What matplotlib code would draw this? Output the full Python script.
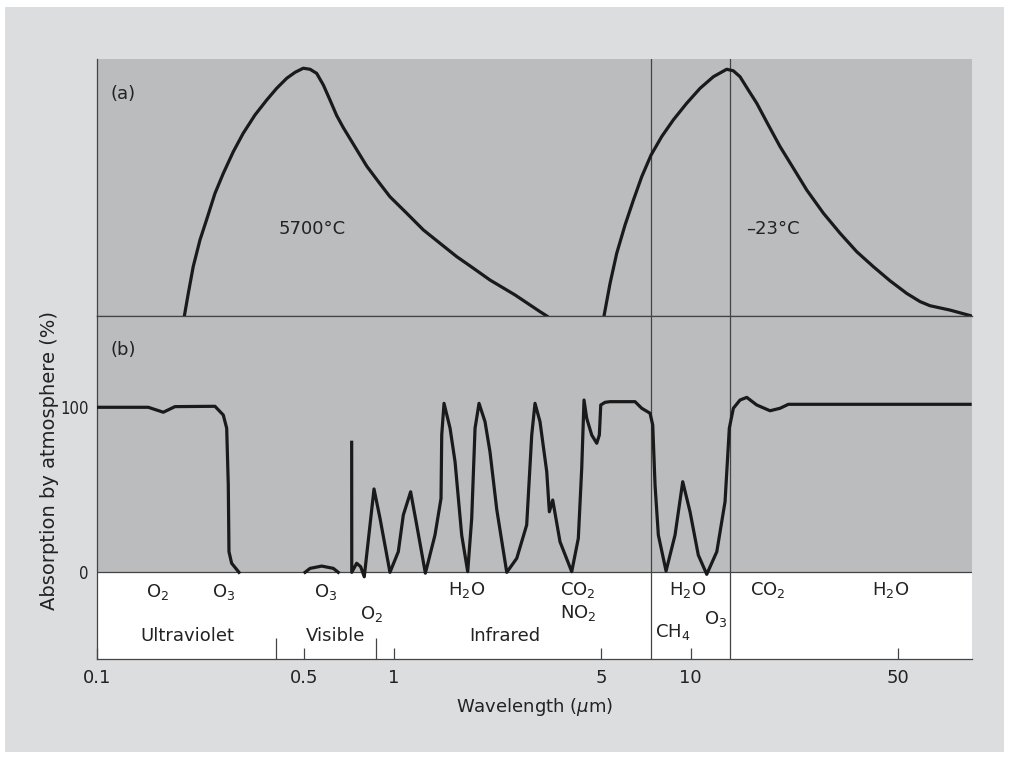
import matplotlib
matplotlib.use("Agg")
import matplotlib.pyplot as plt
from matplotlib import font_manager
from matplotlib.patches import Rectangle
from matplotlib.ticker import FixedLocator, NullFormatter

# (a) emission curves, relative intensity
sun_wl = [0.197, 0.2031, 0.211, 0.2224, 0.234, 0.2498, 0.2665, 0.2879, 0.311, 0.3407,
          0.373, 0.4033, 0.436, 0.4649, 0.4955, 0.5223, 0.55, 0.579, 0.61, 0.6422,
          0.676, 0.7404, 0.811, 0.8871, 0.971, 1.1055, 1.258, 1.4314, 1.63, 1.854,
          2.11, 2.562, 3.11, 3.28]
sun_int = [0, 8.8, 19.2, 29.6, 37.4, 47.7, 55.5, 63.9, 71.1, 78.2,
           84.0, 88.6, 92.5, 94.8, 96.4, 96.0, 94.4, 89.9, 84.0, 78.0,
           73.3, 65.8, 58.3, 52.3, 46.4, 40.0, 33.5, 28.3, 23.1, 18.6,
           14.0, 8.2, 1.7, 0]
earth_wl = [5.11, 5.356, 5.64, 6.016, 6.42, 6.848, 7.36, 7.994, 8.75, 9.71,
            10.77, 11.94, 13.24, 13.94, 14.68, 15.66, 16.71, 18.29, 20.03, 22.21,
            24.64, 28.03, 31.9, 36.32, 41.3, 47.01, 53.5, 59.35, 64.1, 74.9, 88.6]
earth_int = [0, 12.7, 24.4, 35.4, 45.1, 54.2, 62.6, 69.8, 76.3, 82.8,
             88.6, 93.1, 96.0, 95.4, 93.1, 87.9, 82.8, 74.3, 65.9, 57.5,
             49.0, 40.0, 32.2, 25.0, 19.2, 13.7, 8.8, 5.6, 4.0, 2.3, 0]

# (b) absorption by atmosphere (%), three pieces
uv_wl = [0.1, 0.1489, 0.1673, 0.1832, 0.2498, 0.2665, 0.2736, 0.2770, 0.2785, 0.2843, 0.3010]
uv_abs = [100, 100, 97, 100.4, 100.6, 95.3, 87.3, 52.9, 12.5, 5.5, 0]

vis_wl = [0.5024, 0.5223, 0.5719, 0.6257, 0.6502]
vis_abs = [0, 2.4, 3.8, 2.4, 0]

ir_wl = [0.7215, 0.722, 0.750, 0.7738, 0.7955, 0.858, 0.899, 0.971, 1.036, 1.077,
         1.140, 1.195, 1.278, 1.377, 1.443, 1.451, 1.477, 1.548, 1.609, 1.694,
         1.775, 1.831, 1.879, 1.938, 2.030, 2.110, 2.224, 2.403, 2.597, 2.805,
         2.917, 2.992, 3.110, 3.277, 3.344, 3.433, 3.633, 3.978, 4.187, 4.299,
         4.376, 4.469, 4.646, 4.830, 4.929, 4.983, 5.152, 5.356, 6.501, 6.848,
         7.303, 7.458, 7.593, 7.790, 8.270, 8.867, 9.412, 9.961, 10.62, 11.34,
         12.26, 13.07, 13.51, 13.94, 14.68, 15.47, 16.71, 18.53, 20.03, 21.36, 87.5]
ir_abs = [78.8, 0, 5.5, 3.4, -2.7, 50.5, 32.7, 0, 12.5, 34.7,
          48.8, 28.7, -0.5, 22.6, 44.8, 83.2, 102.4, 87.3, 67, 22.6,
          0.4, 32.7, 87.3, 102.4, 91.3, 73, 38, 0, 8.5, 28.7,
          83.2, 102.4, 91.3, 61, 36.7, 43.8, 18.5, 0.4, 20.6, 63,
          104.4, 93.3, 83.2, 78.2, 83.2, 101.4, 103, 103.4, 103.4, 99.4,
          96.4, 89.3, 52.9, 22.6, 0.8, 22.6, 54.9, 36.7, 10.5, -1.2,
          12.5, 42.8, 87.3, 99.4, 104.4, 106, 101.4, 97.9, 99.4, 101.8, 101.8]

window_edges = [7.36, 13.6]
band_edges = [0.4, 0.87]

gas_labels = ["O$_2$", "O$_3$", "O$_3$", "O$_2$", "H$_2$O", "CO$_2$", "NO$_2$",
              "H$_2$O", "O$_3$", "CH$_4$", "CO$_2$", "H$_2$O"]
gas_wl = [0.16, 0.268, 0.591, 0.845, 1.766, 4.18, 4.18, 9.81, 12.19, 8.73, 18.25, 47.4]
gas_y = [-11.9, -11.9, -11.9, -25.3, -10.7, -10.7, -24.7, -10.7, -28.3, -36.2, -10.7, -10.7]

region_labels = ["Ultraviolet", "Visible", "Infrared"]
region_wl = [0.201, 0.639, 2.37]

xticks = [0.1, 0.5, 1, 5, 10, 50]
xticklabels = ["0.1", "0.5", "1", "5", "10", "50"]

panel_gray = "#bbbcbe"
frame_gray = "#dcdddf"
line_col = "#1a1a1a"
rule_col = "#444444"
text_col = "#222222"

plt.rcParams["font.family"] = "DejaVu Sans"
plt.rcParams["mathtext.fontset"] = "dejavusans"

# narrow face for the y tick numbers, if there is one
try:
    font_manager.findfont("Liberation Sans Narrow", fallback_to_default=False)
    narrow = "Liberation Sans Narrow"
    narrow_size = 14
except ValueError:
    narrow = "DejaVu Sans"
    narrow_size = 12

fig = plt.figure(figsize=(10.1, 7.6), dpi=100)
fig.patch.set_facecolor("white")
fig.add_artist(Rectangle((5 / 1010, 8 / 760), 999 / 1010, 745 / 760,
                         transform=fig.transFigure, facecolor=frame_gray,
                         edgecolor="none", zorder=-10))

ax_a = fig.add_axes([0.0960, 0.5842, 0.8661, 0.3382])
ax_b = fig.add_axes([0.0960, 0.1329, 0.8661, 0.4513], sharex=ax_a)

xmin, xmax = 0.1, 88.6
for ax in (ax_a, ax_b):
    ax.set_xscale("log")
    ax.set_xlim(xmin, xmax)
    for s in ("top", "right"):
        ax.spines[s].set_visible(False)
    for s in ("left", "bottom"):
        ax.spines[s].set_color(rule_col)
        ax.spines[s].set_linewidth(0.9)
    for w in window_edges:
        ax.axvline(w, color=rule_col, lw=0.9, zorder=2)
ax_b.spines["top"].set_visible(True)
ax_b.spines["top"].set_color(rule_col)
ax_b.spines["top"].set_linewidth(0.9)

# panel (a)
ax_a.set_facecolor(panel_gray)
ax_a.set_ylim(0, 100)
ax_a.plot(sun_wl, sun_int, color=line_col, lw=2.3, zorder=3)
ax_a.plot(earth_wl, earth_int, color=line_col, lw=2.3, zorder=3)
ax_a.tick_params(axis="both", which="both", length=0, labelbottom=False, labelleft=False)
ax_a.text(0.016, 0.864, "(a)", transform=ax_a.transAxes, fontsize=13,
          ha="left", va="center", color=text_col)
ax_a.text(0.53, 34, "5700°C", fontsize=13, ha="center", va="center", color=text_col)
ax_a.text(19.0, 34, "–23°C", fontsize=13, ha="center", va="center", color=text_col)

# panel (b)
ymin_b, ymax_b = -52.5, 155.3
ax_b.set_facecolor("white")
ax_b.set_ylim(ymin_b, ymax_b)
ax_b.axhspan(0, ymax_b, color=panel_gray, lw=0, zorder=0)
ax_b.axhline(0, color=rule_col, lw=0.9, zorder=2)
ax_b.plot(uv_wl, uv_abs, color=line_col, lw=2.3, zorder=3)
ax_b.plot(vis_wl, vis_abs, color=line_col, lw=2.3, zorder=3)
ax_b.plot(ir_wl, ir_abs, color=line_col, lw=2.3, zorder=3)
ax_b.text(0.016, 0.90, "(b)", transform=ax_b.transAxes, fontsize=13,
          ha="left", va="center", color=text_col)

for lab, x, y in zip(gas_labels, gas_wl, gas_y):
    ax_b.text(x, y, lab, fontsize=13, ha="center", va="center", color=text_col)
for lab, x in zip(region_labels, region_wl):
    ax_b.text(x, -38.6, lab, fontsize=13, ha="center", va="center", color=text_col)

ax_b.set_yticks([0, 100])
ax_b.set_yticklabels(["0", "100"], family=narrow, fontsize=narrow_size,
                     fontstretch="condensed")
ax_b.tick_params(axis="y", length=0, pad=6, labelcolor=text_col)

ax_b.xaxis.set_major_locator(FixedLocator(xticks))
ax_b.set_xticklabels(xticklabels)
ax_b.xaxis.set_minor_locator(FixedLocator(band_edges))
ax_b.xaxis.set_minor_formatter(NullFormatter())
ax_b.tick_params(axis="x", which="major", direction="in", length=8, width=0.9,
                 color=rule_col, pad=7, labelsize=13, labelcolor=text_col)
ax_b.tick_params(axis="x", which="minor", direction="in", length=15, width=0.9,
                 color=rule_col)
ax_b.set_xlabel("Wavelength ($\\mu$m)", fontsize=13, labelpad=7, color=text_col)

fig.text(50 / 1010, 1 - 460 / 760, "Absorption by atmosphere (%)", rotation=90,
         fontsize=14, ha="center", va="center", color=text_col)

fig.savefig("out.png", dpi=100, facecolor=fig.get_facecolor())
